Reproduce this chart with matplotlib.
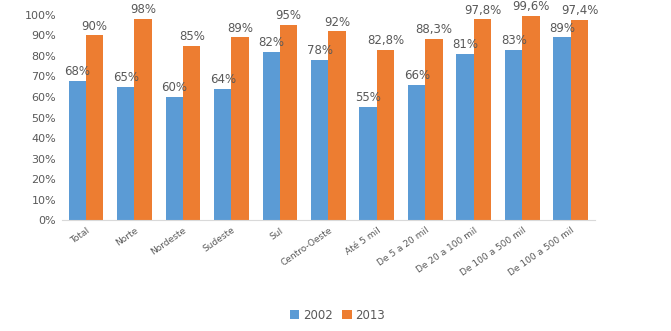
import numpy as np
import matplotlib.pyplot as plt

# dados do gráfico
categorias = ['Total', 'Norte', 'Nordeste', 'Sudeste', 'Sul', 'Centro-Oeste',
              'Até 5 mil', 'De 5 a 20 mil', 'De 20 a 100 mil', 'De 100 a 500 mil',
              'De 100 a 500 mil']
valores_2002 = [68, 65, 60, 64, 82, 78, 55, 66, 81, 83, 89]
valores_2013 = [90, 98, 85, 89, 95, 92, 82.8, 88.3, 97.8, 99.6, 97.4]
rotulos_2002 = ['68%', '65%', '60%', '64%', '82%', '78%', '55%', '66%', '81%', '83%', '89%']
rotulos_2013 = ['90%', '98%', '85%', '89%', '95%', '92%', '82,8%', '88,3%', '97,8%', '99,6%', '97,4%']

azul = '#5B9BD5'
laranja = '#ED7D31'
cinza = '#595959'

fig = plt.figure(figsize=(6.71, 3.31), dpi=100)
ax = fig.add_axes([0.092, 0.335, 0.795, 0.62])

x = np.arange(len(categorias))
w = 0.36
b1 = ax.bar(x - w / 2, valores_2002, w, color=azul, label='2002')
b2 = ax.bar(x + w / 2, valores_2013, w, color=laranja, label='2013')

# rótulos de dados acima das barras
for barras, rotulos in [(b1, rotulos_2002), (b2, rotulos_2013)]:
    for barra, txt in zip(barras, rotulos):
        ax.annotate(txt, (barra.get_x() + barra.get_width() / 2, barra.get_height()),
                    xytext=(0, 2), textcoords='offset points', ha='center', va='bottom',
                    fontsize=8.5, color=cinza, annotation_clip=False)

ax.set_xlim(-0.5, len(categorias) - 0.5)
ax.set_ylim(0, 100)
ax.set_yticks(np.arange(0, 101, 10))
ax.set_yticklabels([f'{v}%' for v in range(0, 101, 10)], fontsize=8, color=cinza)
ax.set_xticks(x)
ax.set_xticklabels(categorias, rotation=35, ha='right', rotation_mode='anchor',
                   fontsize=6.5, color=cinza)
ax.tick_params(axis='both', length=0)
ax.tick_params(axis='x', pad=4)
ax.tick_params(axis='y', pad=4)

for lado in ['top', 'right', 'left']:
    ax.spines[lado].set_visible(False)
ax.spines['bottom'].set_color('#D9D9D9')

fig.legend(handles=[b1, b2], labels=['2002', '2013'], loc='center',
           bbox_to_anchor=(0.503, 0.048), ncol=2, frameon=False, fontsize=8.5,
           handlelength=0.8, handleheight=0.8, handletextpad=0.3, columnspacing=0.8,
           labelcolor=cinza)

fig.savefig('out.png', dpi=100)
